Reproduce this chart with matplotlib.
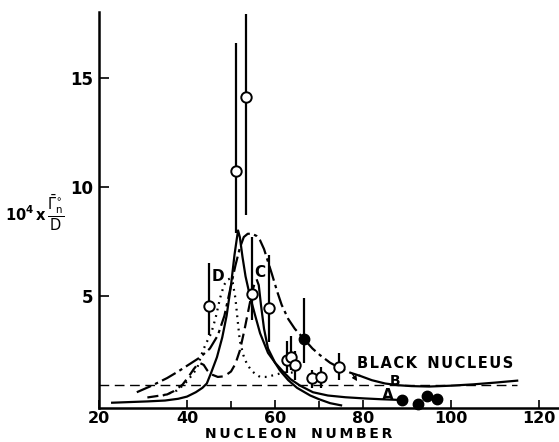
import matplotlib
matplotlib.use("Agg")
import matplotlib.pyplot as plt

plt.rcParams["font.family"] = ["DejaVu Sans"]
plt.rcParams["mathtext.fontset"] = "dejavusans"

# measured points (open circles) with error bar ends
open_x = [45.0, 51.1, 53.4, 54.85, 58.6, 62.65, 63.6, 64.6, 68.5, 70.5, 74.6]
open_y = [4.55, 10.72, 14.12, 5.09, 4.44, 2.08, 2.19, 1.83, 1.25, 1.28, 1.74]
open_lo = [3.2, 7.9, 8.7, 3.9, 2.9, 1.48, 1.6, 1.15, 0.8, 0.8, 1.16]
open_hi = [6.5, 16.6, 17.9, 7.7, 6.9, 2.94, 3.17, 2.5, 1.6, 1.75, 2.4]

# filled circle with error bar
fill_x = [66.66]
fill_y = [3.03]
fill_lo = [1.95]
fill_hi = [4.9]

# filled circles near the axis (A)
dots_x = [88.9, 92.5, 94.5, 96.8]
dots_y = [0.25, 0.08, 0.45, 0.3]

# curve A (solid, sharp peak, long low tail)
a_x = [23, 27, 31, 35, 38, 40, 42, 43.5, 44.5, 45.5, 46.8, 48, 49, 50, 50.8, 51.3, 51.6,
       52.0, 52.6, 53.3, 54.3, 55.5, 56.6, 58.4, 60, 61.8, 63.5, 65.7, 68.6, 72, 76, 80, 84, 88]
a_y = [0.12, 0.15, 0.18, 0.22, 0.3, 0.4, 0.6, 0.8, 1.0, 1.5, 2.2, 3.1, 4.1, 5.5, 6.9, 7.6, 8.0,
       7.7, 6.8, 5.9, 5.0, 4.1, 3.3, 2.4, 1.95, 1.55, 1.2, 0.9, 0.6, 0.45, 0.37, 0.32, 0.28, 0.25]

# curve B (dash-dot, broad peak) and its solid tail
b_x = [28.6, 32, 35.5, 38, 40.7, 43, 45.2, 47, 48.5, 49.8, 51.0, 52.0, 52.9, 53.8, 54.8,
       55.8, 56.6, 57.5, 58.2, 59.3, 60.5, 61.5, 63, 64.5, 66.6, 68.5, 70.2, 72.5, 74.8, 77, 79.3]
b_y = [0.6, 0.9, 1.25, 1.55, 1.9, 2.2, 2.6, 3.2, 4.1, 5.3, 6.4, 7.2, 7.7, 7.85, 7.85,
       7.75, 7.55, 7.15, 6.7, 6.0, 5.2, 4.6, 3.95, 3.5, 3.03, 2.6, 2.3, 1.95, 1.7, 1.5, 1.35]
b_tail_x = [79.3, 82, 85, 88, 91, 95, 100, 105, 110, 115]
b_tail_y = [1.35, 1.15, 1.0, 0.92, 0.88, 0.86, 0.9, 0.96, 1.04, 1.13]

# curve C (dashed, bump near 43, peak near 56)
c_x = [31, 33, 35.5, 37, 39, 40.5, 41.5, 42.3, 43.0, 43.8, 44.6, 45.5, 47, 48.5, 50, 51,
       52, 53, 54, 54.8, 55.4, 55.9]
c_y = [0.36, 0.42, 0.5, 0.65, 0.95, 1.35, 1.65, 1.85, 1.93, 1.85, 1.6, 1.42, 1.3, 1.33, 1.55, 1.9,
       2.5, 3.4, 4.4, 5.2, 5.6, 5.72]
c_tail_x = [55.9, 56.3, 56.8, 57.5, 58.4, 60, 61.1, 63, 65, 68, 70, 72.5, 75]
c_tail_y = [5.72, 5.5, 4.6, 3.5, 2.6, 1.95, 1.6, 1.15, 0.8, 0.45, 0.28, 0.1, 0.0]

# curve D (dotted, peak near 50)
d_x = [34.5, 36, 37.7, 39, 40, 41.2, 42.3, 43.6, 44.5, 45.5, 46.5, 47.5, 48.4, 49.2, 49.8,
       50.4, 51.0, 51.5, 52.0, 52.8, 53.6, 54.6, 55.6, 56.6, 58.2, 60, 62, 64]
d_y = [0.45, 0.55, 0.68, 0.9, 1.1, 1.4, 1.7, 2.5, 2.9, 3.3, 4.0, 4.9, 5.5, 5.75, 5.8,
       5.6, 4.9, 3.9, 2.95, 2.3, 1.9, 1.6, 1.42, 1.3, 1.3, 1.4, 1.5, 1.5]

black_nucleus = 0.95

x_ticks = [20, 40, 60, 80, 100, 120]
x_minor = [50, 70]
y_ticks = [5, 10, 15]

fig = plt.figure(figsize=(5.59, 4.42), dpi=100)
ax = fig.add_axes([0.177, 0.077, 0.823, 0.896])

lw = 1.6
ax.plot(a_x, a_y, "-", color="black", lw=lw, zorder=3)
ax.plot(b_x, b_y, color="black", lw=lw, dashes=(7, 2, 1.5, 2), zorder=3)
ax.plot(b_tail_x, b_tail_y, "-", color="black", lw=lw, zorder=3)
ax.plot(c_x, c_y, color="black", lw=lw, dashes=(5, 2.5), zorder=3)
ax.plot(c_tail_x, c_tail_y, "-", color="black", lw=lw, zorder=3)
ax.plot(d_x, d_y, color="black", lw=lw, dashes=(0.8, 2.2), zorder=3)
ax.plot([20, 115], [black_nucleus, black_nucleus], color="black", lw=1.0,
        dashes=(7, 4), zorder=2)

ax.vlines(open_x, open_lo, open_hi, color="black", lw=1.6, zorder=4)
ax.plot(open_x, open_y, "o", ms=7.5, mfc="white", mec="black", mew=1.4, zorder=5)
ax.vlines(fill_x, fill_lo, fill_hi, color="black", lw=1.6, zorder=4)
ax.plot(fill_x, fill_y, "o", ms=7.5, mfc="black", mec="black", zorder=5)
ax.plot(dots_x, dots_y, "o", ms=7.5, mfc="black", mec="black", zorder=5, clip_on=False)

hs = "\u200a"
tfont = dict(fontsize=11, fontweight="bold")
ax.text(47.0, 5.9, "D", ha="center", va="center", **tfont)
ax.text(56.6, 6.1, "C", ha="center", va="center", **tfont)
ax.text(87.3, 1.12, "B", ha="center", va="center", fontsize=10, fontweight="bold")
ax.text(85.6, 0.45, "A", ha="center", va="center", **tfont)
ax.text(78.6, 1.9, hs.join("BLACK") + "  " + hs.join("NUCLEUS"),
        ha="left", va="center", fontsize=10.5, fontweight="bold")
ax.annotate("", xy=(79.0, black_nucleus + 0.05), xytext=(77.2, 1.55),
            arrowprops=dict(arrowstyle="-|>", color="black", lw=0.9, mutation_scale=7))

ax.set_xlim(20, 124.5)
ax.set_ylim(-0.12, 18)
ax.spines["top"].set_visible(False)
ax.spines["right"].set_visible(False)
ax.spines["left"].set_linewidth(1.8)
ax.spines["bottom"].set_linewidth(1.8)

ax.set_xticks(x_ticks)
ax.set_xticks(x_minor, minor=True)
ax.set_yticks(y_ticks)
ax.tick_params(axis="both", which="both", direction="in", width=1.2)
ax.tick_params(axis="x", which="major", length=6, pad=2, labelsize=11.5)
ax.tick_params(axis="x", which="minor", length=5)
ax.tick_params(axis="y", length=7, pad=4, labelsize=12)
for lab in ax.get_xticklabels() + ax.get_yticklabels():
    lab.set_fontweight("bold")

# x label sits left of the axes centre, as in the original figure
ts = "\u2009"
fig.text((99 + 200) / 559, 4 / 442, ts.join("NUCLEON") + "   " + ts.join("NUMBER"),
         ha="center", va="baseline", fontsize=10, fontweight="bold")

fig.text(0.062, 0.518,
         r"$\mathbf{10^4}\,\mathbf{x}\,\dfrac{\bar{\Gamma}_{\mathrm{n}}^{\circ}}{\mathrm{D}}$",
         ha="center", va="center", fontsize=10.5)

fig.savefig("out.png", dpi=100)
